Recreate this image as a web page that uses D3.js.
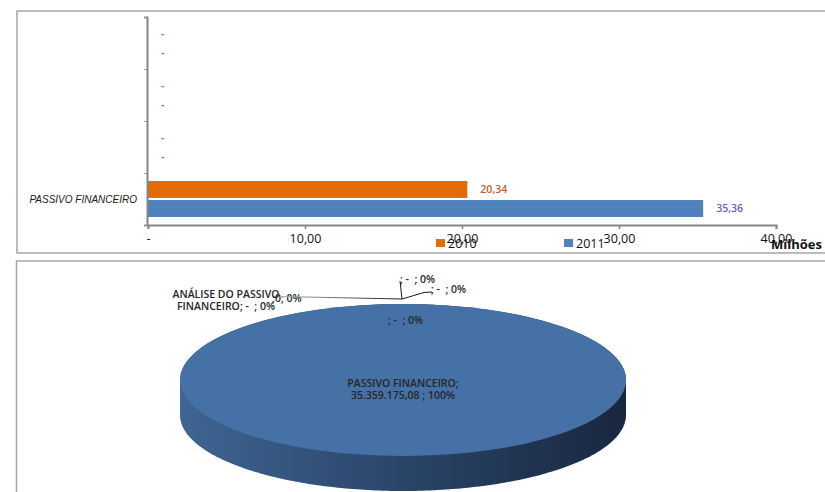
<!DOCTYPE html>
<html>
<head>
<meta charset="utf-8">
<script src="https://cdn.jsdelivr.net/npm/d3@7"></script>
<style>
  html, body { margin: 0; padding: 0; background: #fff; }
  svg { display: block; }
  text { white-space: pre; }
</style>
</head>
<body>
<svg id="chart" width="825" height="492"></svg>
<script>
// Bar chart data (values in millions)
const categories = ["PASSIVO FINANCEIRO", "", "", ""];
const series = ["2010", "2011"];
const values2010 = [20.34, 0, 0, 0];
const values2011 = [35.36, 0, 0, 0];
const xTicks = [0, 10, 20, 30, 40];

// Pie chart data
const pieLabels = ["ANÁLISE DO PASSIVO FINANCEIRO", "0", "", "", "", "PASSIVO FINANCEIRO"];
const pieValues = [0, 0, 0, 0, 0, 35359175.08];

const svg = d3.select("#chart");
const fmt2 = v => v === 0 ? "-" : d3.format(".2f")(v).replace(".", ",");

// ---------- frames ----------
svg.append("rect").attr("x", 17).attr("y", 11).attr("width", 840).attr("height", 242)
  .attr("fill", "none").attr("stroke", "#a6a6a6").attr("stroke-width", 1.5);
svg.append("rect").attr("x", 16.5).attr("y", 261).attr("width", 840).attr("height", 260)
  .attr("fill", "none").attr("stroke", "#a6a6a6").attr("stroke-width", 1.5);

// ---------- bar chart ----------
const x = d3.scaleLinear().domain([0, 40]).range([148, 776]);
const y = d3.scaleBand().domain(d3.range(categories.length)).range([225, 17]);
const ySub = d3.scaleBand().domain(series).range([8, y.bandwidth() - 8]).paddingInner(0.11);
const colors = { "2010": "#e36c09", "2011": "#4f81bd" };
const labelColors = { "2010": "#c0602d", "2011": "#6464c8" };
const dashColors = { "2010": "#e8603a", "2011": "#7a7ad8" };
const data = { "2010": values2010, "2011": values2011 };

const gBars = svg.append("g");
series.forEach(s => {
  categories.forEach((c, i) => {
    const v = data[s][i];
    const yTop = y(i) + ySub(s);
    if (v > 0) {
      gBars.append("rect")
        .attr("x", x(0)).attr("y", yTop)
        .attr("width", x(v) - x(0)).attr("height", ySub.bandwidth())
        .attr("fill", colors[s]);
    }
    gBars.append("text")
      .attr("x", x(v) + 13).attr("y", yTop + ySub.bandwidth() / 2)
      .attr("dy", "0.35em")
      .attr("font-family", "Open Sans, sans-serif")
      .attr("font-size", 10.5)
      .attr("font-weight", v > 0 ? 600 : 700)
      .attr("fill", v > 0 ? labelColors[s] : dashColors[s])
      .text(fmt2(v));
  });
});

// y axis
const yAxis = d3.axisLeft(d3.scaleLinear().domain([0, 4]).range([225, 17]))
  .tickValues([0, 1, 2, 3, 4]).tickSize(3).tickFormat("");
const gy = svg.append("g").attr("transform", "translate(147,0)").call(yAxis);
gy.select(".domain").attr("stroke", "#868686").attr("stroke-width", 2);
gy.selectAll(".tick line").attr("stroke", "#a0a0a0");

categories.forEach((c, i) => {
  svg.append("text")
    .attr("x", 137).attr("y", y(i) + y.bandwidth() / 2)
    .attr("dy", "0.35em").attr("text-anchor", "end")
    .attr("font-family", "Liberation Sans, Arial, sans-serif")
    .attr("font-size", 10).attr("font-style", "italic").attr("fill", "#1a1a1a")
    .text(c);
});

// x axis
const xAxis = d3.axisBottom(x).tickValues(xTicks).tickSize(4).tickFormat(fmt2).tickPadding(5);
const gx = svg.append("g").attr("transform", "translate(0,225)").call(xAxis);
gx.select(".domain").attr("stroke", "#868686").attr("stroke-width", 2);
gx.selectAll(".tick line").attr("stroke", "#868686").attr("stroke-width", 1.5);
gx.selectAll(".tick text")
  .attr("font-family", "Open Sans, sans-serif").attr("font-size", 12.5).attr("fill", "#111");

// legend
const legendX = { "2010": 436, "2011": 564 };
series.forEach(s => {
  svg.append("rect").attr("x", legendX[s]).attr("y", 239).attr("width", 9).attr("height", 8)
    .attr("fill", colors[s]);
  svg.append("text").attr("x", legendX[s] + 12).attr("y", 247.5)
    .attr("font-family", "Open Sans, sans-serif").attr("font-size", 12.5).attr("fill", "#111")
    .text(s);
});
svg.append("text").attr("x", 822).attr("y", 249).attr("text-anchor", "end")
  .attr("font-family", "Open Sans, sans-serif").attr("font-size", 13).attr("font-weight", 700)
  .attr("fill", "#111").text("Milhões");

// ---------- 3D pie ----------
const cx = 403, cy = 380, rx = 223, ry = 76, depth = 35;
const k = ry / rx;
const total = d3.sum(pieValues);
const pie = d3.pie().sort(null).value(d => d)(pieValues);

const defs = svg.append("defs");
const sideGrad = defs.append("linearGradient").attr("id", "sideGrad")
  .attr("gradientUnits", "userSpaceOnUse")
  .attr("x1", cx - rx).attr("x2", cx + rx).attr("y1", 0).attr("y2", 0);
sideGrad.append("stop").attr("offset", "0%").attr("stop-color", "#3f6594");
sideGrad.append("stop").attr("offset", "45%").attr("stop-color", "#2c486c");
sideGrad.append("stop").attr("offset", "100%").attr("stop-color", "#182740");

const leaderGrad = defs.append("linearGradient").attr("id", "leaderGrad")
  .attr("gradientUnits", "userSpaceOnUse")
  .attr("x1", 280).attr("x2", 402).attr("y1", 0).attr("y2", 0);
leaderGrad.append("stop").attr("offset", "0%").attr("stop-color", "#b0b0b0");
leaderGrad.append("stop").attr("offset", "100%").attr("stop-color", "#222");

// side wall: front half of the ellipse extruded downward
const sidePts = [];
for (let a = 0; a <= 180; a += 1) {
  const t = a * Math.PI / 180;
  sidePts.push([cx - rx * Math.cos(t), cy + ry * Math.sin(t) + depth]);
}
const sidePath = "M" + (cx - rx) + "," + cy +
  " L" + sidePts.map(p => p.join(",")).join(" L") +
  " L" + (cx + rx) + "," + cy +
  " A" + rx + "," + ry + " 0 0 0 " + (cx - rx) + "," + cy + " Z";
svg.append("path").attr("d", sidePath).attr("fill", "url(#sideGrad)");

// top face drawn from the pie layout, squashed into an ellipse
const arc = d3.arc().innerRadius(0).outerRadius(rx);
svg.append("g").attr("transform", `translate(${cx},${cy}) scale(1,${k})`)
  .selectAll("path").data(pie.filter(d => d.value > 0)).join("path")
  .attr("d", arc).attr("fill", "#4571a6");

// pie labels
const labelFont = g => g.attr("font-family", "Open Sans, sans-serif")
  .attr("font-size", 10.5).attr("font-weight", 600).attr("fill", "#262626");
const pctFmt = v => d3.format(".0%")(v / total);
const numFmt = v => v === 0 ? " -  " : d3.format(",.2f")(v).replace(/,/g, "#").replace(".", ",").replace(/#/g, ".");

// main slice
const mainIdx = pieValues.indexOf(d3.max(pieValues));
const mainT = svg.append("text").attr("x", cx).attr("y", cy + 7).attr("text-anchor", "middle").call(labelFont);
mainT.append("tspan").attr("x", cx).attr("dy", 0).text(pieLabels[mainIdx] + ";");
mainT.append("tspan").attr("x", cx).attr("dy", 12)
  .text(numFmt(pieValues[mainIdx]) + " ; " + pctFmt(pieValues[mainIdx]));

// zero slices with their callouts
const t0 = svg.append("text").attr("x", 226).attr("y", 298).attr("text-anchor", "middle").call(labelFont);
t0.append("tspan").attr("x", 226).attr("dy", 0).text("ANÁLISE DO PASSIVO");
t0.append("tspan").attr("x", 226).attr("dy", 11.5).text("FINANCEIRO;" + numFmt(pieValues[0]) + "; " + pctFmt(pieValues[0]));

svg.append("text").attr("x", 272).attr("y", 302).call(labelFont)
  .text(";" + pieLabels[1] + "; " + pctFmt(pieValues[1]));
svg.append("text").attr("x", 400).attr("y", 283).call(labelFont)
  .text(pieLabels[2] + ";" + numFmt(pieValues[2]) + "; " + pctFmt(pieValues[2]));
svg.append("text").attr("x", 431).attr("y", 293).call(labelFont)
  .text(pieLabels[3] + ";" + numFmt(pieValues[3]) + "; " + pctFmt(pieValues[3]));
svg.append("text").attr("x", 388).attr("y", 324).call(labelFont)
  .text(pieLabels[4] + ";" + numFmt(pieValues[4]) + "; " + pctFmt(pieValues[4]));

// leader lines
svg.append("path").attr("d", "M280,296.5 L402,299").attr("stroke", "url(#leaderGrad)")
  .attr("stroke-width", 1.2).attr("fill", "none");
svg.append("path").attr("d", "M400,281 L402,299 L424,292.5 L432,292")
  .attr("stroke", "#1a1a1a").attr("stroke-width", 1).attr("fill", "none");
</script>
</body>
</html>
